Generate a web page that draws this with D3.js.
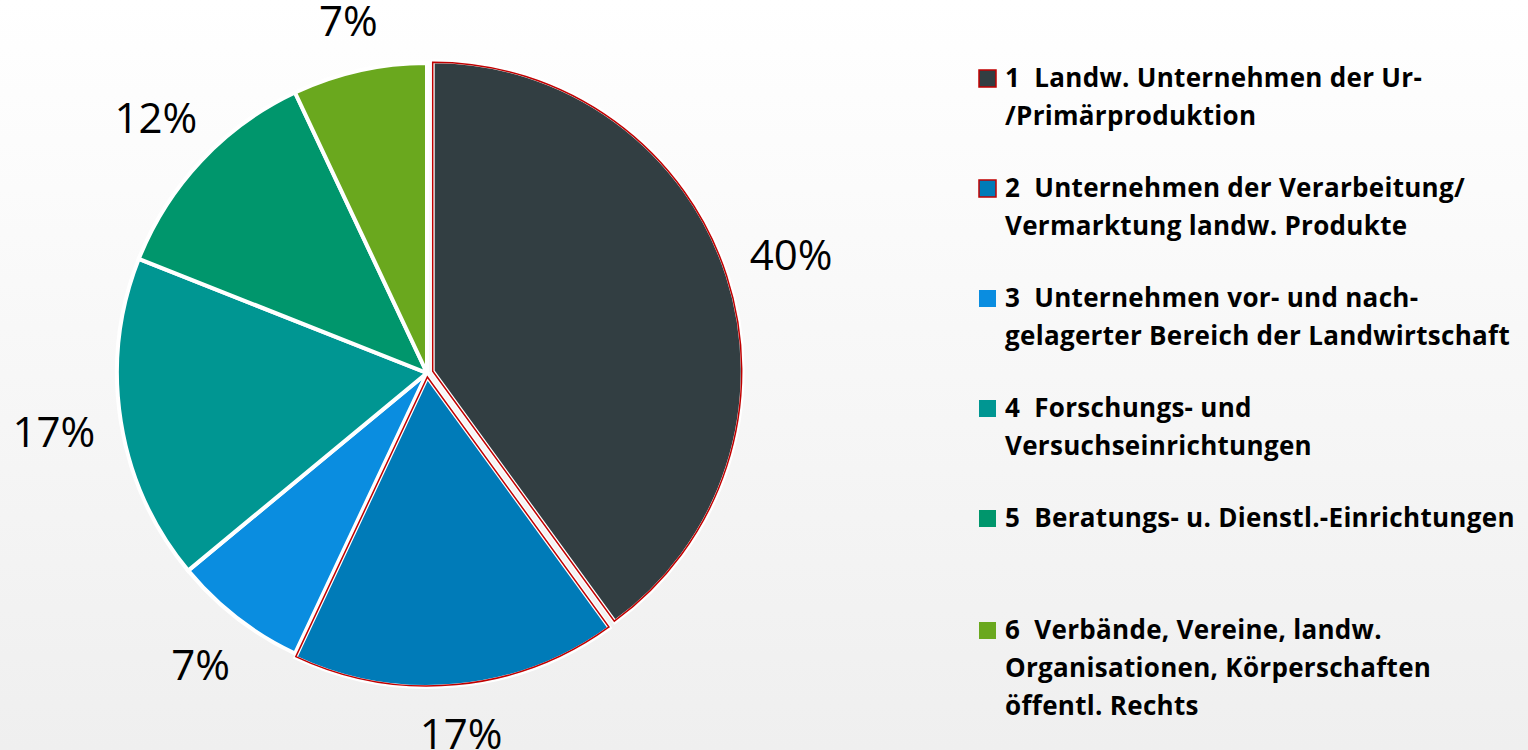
<!DOCTYPE html>
<html>
<head>
<meta charset="utf-8">
<script src="https://cdn.jsdelivr.net/npm/d3@7"></script>
<style>
  html, body { margin: 0; padding: 0; }
  body { width: 1528px; height: 750px; overflow: hidden; }
  .item text { white-space: pre; }
</style>
</head>
<body>
<svg width="1528" height="750"></svg>
<script>
// Data
const categories = [
    ["1  Landw. Unternehmen der Ur-", "/Primärproduktion"],
    ["2  Unternehmen der Verarbeitung/", "Vermarktung landw. Produkte"],
    ["3  Unternehmen vor- und nach-", "gelagerter Bereich der Landwirtschaft"],
    ["4  Forschungs- und", "Versuchseinrichtungen"],
    ["5  Beratungs- u. Dienstl.-Einrichtungen"],
    ["6  Verbände, Vereine, landw.", "Organisationen, Körperschaften", "öffentl. Rechts"]
];
const values = [40, 17, 7, 17, 12, 7];
const labels = ["40%", "17%", "7%", "17%", "12%", "7%"];
const colors = ["#323e42", "#007bb8", "#0a8de0", "#009692", "#00966c", "#6aa81e"];
const explode = [6, 4, 0, 0, 0, 0];
const edgeColors = ["#c00000", "#c00000", null, null, null, null];

const svg = d3.select("svg");

// background gradient
const defs = svg.append("defs");
const grad = defs.append("linearGradient")
    .attr("id", "bg")
    .attr("x1", 0).attr("y1", 0).attr("x2", 0).attr("y2", 1);
grad.append("stop").attr("offset", "0%").attr("stop-color", "#ffffff");
grad.append("stop").attr("offset", "100%").attr("stop-color", "#efefef");
svg.append("rect").attr("width", 1528).attr("height", 750).attr("fill", "url(#bg)");

const cx = 427, cy = 373, radius = 310;

const pie = d3.pie().sort(null).value(d => d);
const arcs = pie(values);
const arc = d3.arc().innerRadius(0).outerRadius(radius);

const g = svg.append("g").attr("transform", `translate(${cx}, ${cy})`);

const offset = (d, i) => {
    const mid = (d.startAngle + d.endAngle) / 2;
    return [Math.sin(mid) * explode[i], -Math.cos(mid) * explode[i]];
};

g.selectAll(".slice")
    .data(arcs)
    .enter().append("path")
    .attr("class", "slice")
    .attr("transform", (d, i) => `translate(${offset(d, i)})`)
    .attr("d", arc)
    .attr("fill", (d, i) => colors[i])
    .attr("stroke", "#ffffff")
    .attr("stroke-width", 4)
    .attr("stroke-linejoin", "miter");

// red thin outline on the highlighted slices
g.selectAll(".edge")
    .data(arcs.filter((d, i) => edgeColors[i]))
    .enter().append("path")
    .attr("class", "edge")
    .attr("transform", d => `translate(${offset(d, d.index)})`)
    .attr("d", d3.arc().innerRadius(0).outerRadius(radius - 1))
    .attr("fill", "none")
    .attr("stroke", d => edgeColors[d.index])
    .attr("stroke-width", 1.5);

// percentage labels, pushed further out at the sides (wide text)
g.selectAll(".lbl")
    .data(arcs)
    .enter().append("text")
    .attr("class", "lbl")
    .attr("transform", (d, i) => {
        const mid = (d.startAngle + d.endAngle) / 2;
        const r = 356 + 22 * Math.abs(Math.sin(mid));
        const [ox, oy] = offset(d, i);
        return `translate(${Math.sin(mid) * r + ox}, ${-Math.cos(mid) * r + oy})`;
    })
    .attr("text-anchor", "middle")
    .attr("dy", "0.36em")
    .attr("font-family", "'Open Sans', sans-serif")
    .attr("font-size", 42)
    .attr("fill", "#000")
    .text((d, i) => labels[i]);

// legend
const legendY = [78, 188, 298, 408, 518, 630];
const lineH = 38;
const legend = svg.append("g").attr("transform", "translate(979, 0)");

const item = legend.selectAll(".item")
    .data(categories)
    .enter().append("g")
    .attr("class", "item")
    .attr("transform", (d, i) => `translate(0, ${legendY[i]})`);

item.append("rect")
    .attr("x", 0).attr("y", -8)
    .attr("width", 17).attr("height", 17)
    .attr("fill", (d, i) => colors[i])
    .attr("stroke", (d, i) => edgeColors[i] || "none")
    .attr("stroke-width", 1.5);

item.append("text")
    .attr("x", 26)
    .attr("font-family", "'Open Sans', sans-serif")
    .attr("font-weight", "bold")
    .attr("font-size", 26)
    .attr("letter-spacing", 0.3)
    .attr("fill", "#000")
    .selectAll("tspan")
    .data(d => d)
    .enter().append("tspan")
    .attr("x", 26)
    .attr("y", (d, j) => j * lineH)
    .attr("dy", "0.36em")
    .text(d => d);
</script>
</body>
</html>
